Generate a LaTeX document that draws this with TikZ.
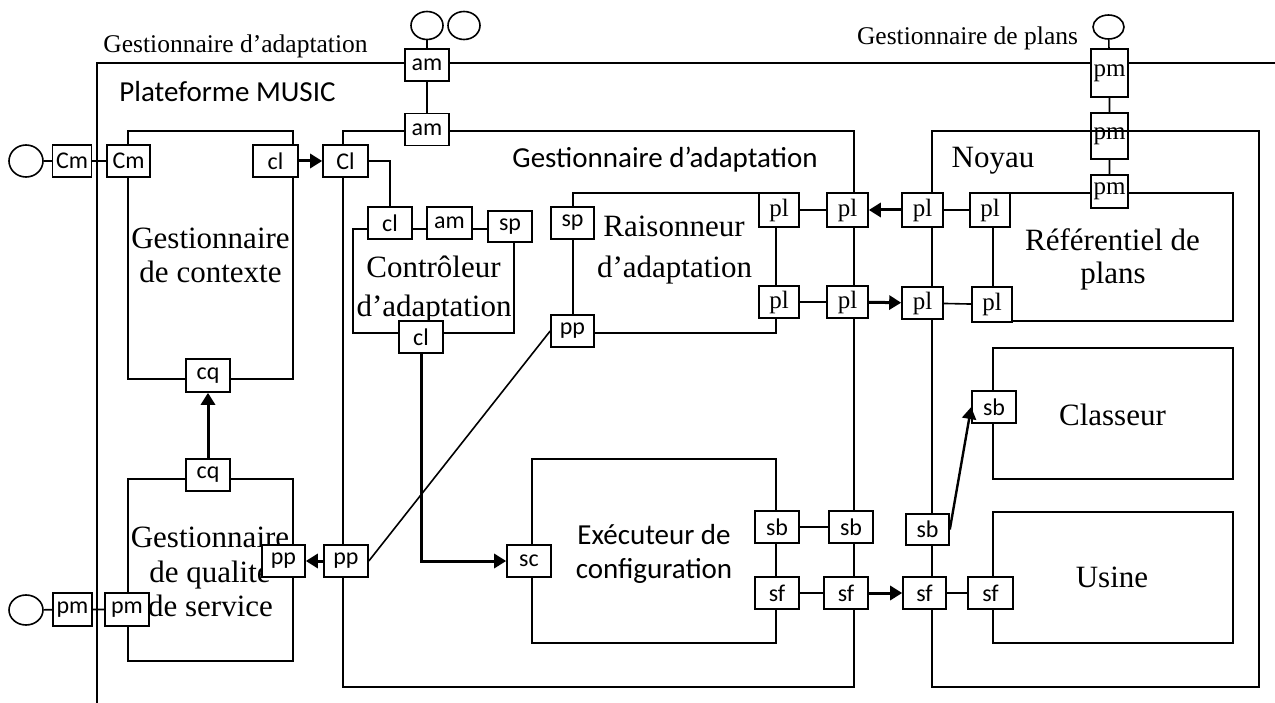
\documentclass[tikz,border=0pt]{standalone}
\usepackage{fontspec}
\setmainfont{Liberation Serif}
\setsansfont{Carlito}
\usetikzlibrary{shapes.geometric,arrows.meta}

\begin{document}
\begin{tikzpicture}[x=1pt,y=-1pt,
  line width=1.6pt,
  port/.style={draw, fill=white, inner sep=0pt, minimum width=44pt, minimum height=32pt,
    font=\sffamily\fontsize{24}{24}\selectfont},
  sport/.style={port, minimum width=40pt, font=\rmfamily\fontsize{25}{25}\selectfont},
  iface/.style={draw, ellipse, inner sep=0pt, minimum width=32pt, minimum height=28pt},
  frame/.style={draw, line width=1.6pt},
  wire/.style={line width=1.6pt},
  flow/.style={line width=3pt, -{Triangle[length=12pt,width=14pt]}},
  title/.style={font=\rmfamily\fontsize{25.5}{25.5}\selectfont, anchor=base, inner sep=0pt},
  stitle/.style={font=\sffamily\fontsize{29}{29}\selectfont, anchor=base, inner sep=0pt},
  cname/.style={font=\rmfamily\fontsize{31}{31}\selectfont, anchor=base, inner sep=0pt},
]
% canvas
\fill[white] (0,0) rectangle (1275,703);
\useasboundingbox (0,0) rectangle (1275,703);

% MUSIC platform (open frame)
\coordinate (platBL) at (97,703);
\coordinate (platTL) at (97,63);
\coordinate (platTR) at (1275,63);
\draw[frame] (platBL) -- (platTL) -- (platTR);

% component frames
\draw[frame] (128,131) rectangle (293,379);   % context manager
\draw[frame] (128,479) rectangle (293,661);   % QoS manager
\draw[frame] (343,131) rectangle (854,687);   % adaptation manager
\draw[frame] (353,229) rectangle (514,333);   % adaptation controller
\draw[frame] (573,193) rectangle (776,333);   % adaptation reasoner
\draw[frame] (532,459) rectangle (776,643);   % configuration executor
\draw[frame] (932,131) rectangle (1259,687);  % kernel
\draw[frame] (993,193) rectangle (1233,321);  % plan repository
\draw[frame] (993,348) rectangle (1233,479);  % sorter
\draw[frame] (993,512) rectangle (1233,643);  % factory

% titles
\node[title] (tGA) at (235.5,53) {Gestionnaire d’adaptation};
\node[title] (tGP) at (967.5,45) {Gestionnaire de plans};
\node[stitle] (tPM) at (227.5,102) {Plateforme MUSIC};
\node[stitle] (tAM) at (665,168) {Gestionnaire d’adaptation};
\node[cname] (tNo) at (993,168) {Noyau};

\node[cname] (tCx1) at (210.5,249) {Gestionnaire};
\node[cname] (tCx2) at (210.5,283) {de contexte};
\node[cname] (tQo1) at (210,547) {Gestionnaire};
\node[cname] (tQo2) at (210,582) {de qualité};
\node[cname] (tQo3) at (210.5,616) {de service};
\node[cname] (tCo1) at (433.5,278) {Contrôleur};
\node[cname] (tCo2) at (434,317) {d’adaptation};
\node[cname] (tRa1) at (674,237) {Raisonneur};
\node[cname] (tRa2) at (674.5,278) {d’adaptation};
\node[cname] (tRe1) at (1112.5,251) {Référentiel de};
\node[cname] (tRe2) at (1113,284) {plans};
\node[cname] (tCl) at (1112.5,425) {Classeur};
\node[cname] (tUs) at (1112,587) {Usine};
\node[stitle] (tEx1) at (654,544) {Exécuteur de};
\node[stitle] (tEx2) at (654,578) {configuration};

% provided interfaces
\node[iface] (cAm)  at (427,25.5) {};
\node[iface] (cAm2) at (464,25.5) {};
\node[iface, minimum width=31pt, minimum height=24pt] (cPm) at (1108.5,27) {};
\node[iface, minimum width=34pt, minimum height=32pt] (cCm) at (26,161) {};
\node[iface, minimum width=34pt, minimum height=30pt] (cPmQ) at (26,610) {};

% ports
\node[port] (amT) at (427,65) {am};
\node[port] (amB) at (427,129.5) {am};
\node[port, minimum width=39pt] (CmO) at (72,161) {Cm};
\node[port, minimum width=43pt] (CmI) at (128.5,161) {Cm};
\node[port, minimum width=45pt] (clC) at (275.5,161) {cl};
\node[port, minimum width=45pt] (ClA) at (345.5,161) {Cl};
\node[port] (clK) at (390,223) {cl};
\node[port, minimum width=45pt] (amK) at (449.5,223) {am};
\node[port, minimum height=31pt] (spK) at (510,226.5) {sp};
\node[port] (clK2) at (421,337) {cl};
\node[port, minimum width=43pt] (spR) at (572.5,223) {sp};
\node[port, minimum width=43pt] (ppR) at (572.5,331) {pp};
\node[sport, minimum height=34pt] (plR1) at (779,210) {pl};
\node[sport] (plR2) at (779,302) {pl};
\node[sport, minimum width=41pt, minimum height=34pt] (plA1) at (847.5,210) {pl};
\node[sport, minimum width=41pt] (plA2) at (847.5,302) {pl};
\node[sport, minimum width=41pt, minimum height=34pt] (plN1) at (922.5,210) {pl};
\node[sport, minimum width=41pt] (plN2) at (922.5,303) {pl};
\node[sport, minimum height=34pt] (plF1) at (990,210) {pl};
\node[sport, minimum height=35pt] (plF2) at (992,304.5) {pl};
\node[sport, minimum width=37pt, minimum height=48pt] (pm1) at (1109.5,73) {pm};
\node[sport, fill=none, minimum width=37pt, minimum height=46pt] (pm2) at (1109.5,136) {pm};
\node[sport, minimum width=37pt, minimum height=33pt] (pm3) at (1109.5,191.5) {pm};
\node[port, minimum height=33pt] (cqC) at (208,375.5) {cq};
\node[port] (cqQ) at (208,475) {cq};
\node[port, minimum width=39pt, minimum height=33pt] (pmO) at (72.5,609.5) {pm};
\node[port, minimum height=33pt] (pmI) at (127,609.5) {pm};
\node[port, minimum width=43pt] (ppQ) at (283.5,561) {pp};
\node[port] (ppA) at (346,561) {pp};
\node[port] (sc) at (529,561) {sc};
\node[port] (sbE) at (777,527) {sb};
\node[port] (sfE) at (777,593) {sf};
\node[port] (sbA) at (851,527) {sb};
\node[port] (sfA) at (846,593) {sf};
\node[port, minimum width=43pt, minimum height=31pt] (sbN) at (927.5,529.5) {sb};
\node[port, minimum width=43pt] (sfN) at (924.5,593) {sf};
\node[port] (sbC) at (994,407) {sb};
\node[port, minimum width=45pt] (sfU) at (990.5,593) {sf};

% plain bindings
\draw[wire] (cCm) -- (CmO) -- (CmI);
\draw[wire] (cPmQ) -- (pmO) -- (pmI);
\draw[wire] (cAm) -- (amT) -- (amB);
\draw[wire] (cPm) -- (pm1) -- (pm2) -- (pm3);
\draw[wire] (ClA.east) -| (clK.north);
\draw[wire] (plR1) -- (plA1);
\draw[wire] (plR2) -- (plA2);
\draw[wire] (plN1) -- (plF1);
\draw[wire] (plN2) -- (plF2);
\draw[wire] (sbE) -- (sbA);
\draw[wire] (sfE) -- (sfA);
\draw[wire] (sfN) -- (sfU);
\draw[wire] (ppA.east) -- (ppR.west);

% directed bindings
\draw[flow] (clC) -- (ClA);
\draw[flow] (plN1) -- (plA1);
\draw[flow] (plA2) -- (plN2);
\draw[flow] (clK2.south) |- (sc.west);
\draw[flow] (ppA) -- (ppQ);
\draw[flow] (cqQ) -- (cqC);
\draw[flow] (sfA) -- (sfN);
\draw[flow, line width=2.4pt] (sbN.east) -- (sbC.west);
\end{tikzpicture}
\end{document}
